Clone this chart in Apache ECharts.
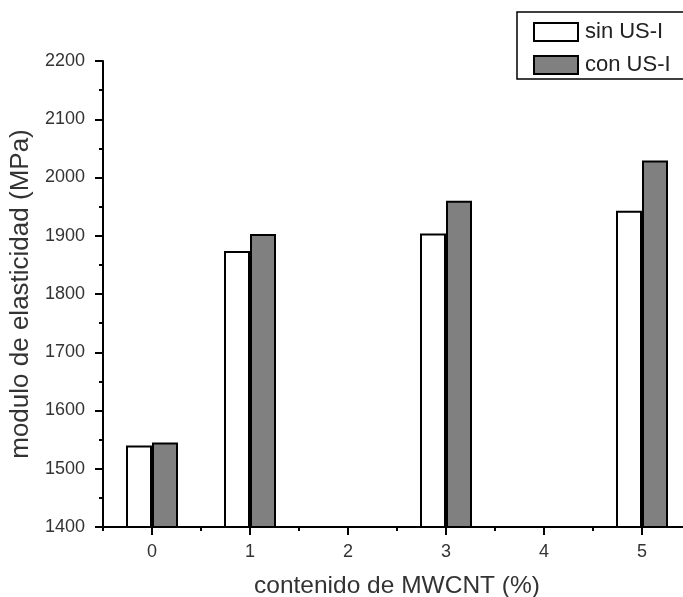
<!DOCTYPE html>
<html>
<head>
<meta charset="utf-8">
<script src="https://cdn.jsdelivr.net/npm/echarts@6/dist/echarts.min.js"></script>
<style>
  html, body { margin: 0; padding: 0; background: #fff; }
  #chart { width: 683px; height: 597px; }
</style>
</head>
<body>
<div id="chart"></div>
<script>
// MWCNT content (%) on the x axis
const categories = ['0', '1', '2', '3', '4', '5'];
// Tensile modulus (MPa) without and with ultrasound treatment
const sinUSI = [1540, 1874, null, 1904, null, 1943];
const conUSI = [1545, 1903, null, 1960, null, 2029];
// Band edges used for the short ticks between categories
const bandEdges = ['', '', '', '', '', '', ''];

const FONT = '"Liberation Sans", Arial, sans-serif';
const TEXT = '#333';

const chart = echarts.init(document.getElementById('chart'), null, { renderer: 'canvas' });

chart.setOption({
  animation: false,
  backgroundColor: '#fff',
  textStyle: { fontFamily: FONT },
  grid: { left: 103, top: 61, width: 588, height: 466, containLabel: false, outerBoundsMode: 'none' },
  legend: {
    left: 517,
    top: 12,
    orient: 'vertical',
    padding: [9, 30, 3, 16],
    itemWidth: 44,
    itemHeight: 18,
    itemGap: 11,
    borderColor: '#000',
    borderWidth: 1.5,
    borderRadius: 0,
    backgroundColor: '#fff',
    icon: 'rect',
    textStyle: { fontSize: 22, color: '#222', fontFamily: FONT, lineHeight: 18, padding: [0, 0, 0, 2] },
    data: [
      { name: 'sin US-I', itemStyle: { color: '#fff', borderColor: '#000', borderWidth: 2 } },
      { name: 'con US-I', itemStyle: { color: '#808080', borderColor: '#000', borderWidth: 2 } }
    ]
  },
  xAxis: [
    {
      type: 'category',
      data: categories,
      boundaryGap: true,
      name: 'contenido de MWCNT (%)',
      nameLocation: 'middle',
      nameGap: 47,
      nameTextStyle: { fontSize: 24.5, color: TEXT, fontFamily: FONT },
      axisLine: { show: true, lineStyle: { color: '#000', width: 2 } },
      axisTick: { show: true, alignWithLabel: true, length: 8, lineStyle: { color: '#000', width: 2 } },
      axisLabel: { fontSize: 18, color: TEXT, margin: 16, fontFamily: FONT },
      splitLine: { show: false }
    },
    {
      type: 'category',
      data: bandEdges,
      boundaryGap: false,
      position: 'bottom',
      axisLine: { show: false },
      axisTick: { show: true, length: 4, interval: 0, lineStyle: { color: '#000', width: 2 } },
      axisLabel: { show: false },
      splitLine: { show: false }
    }
  ],
  yAxis: {
    type: 'value',
    min: 1400,
    max: 2200,
    interval: 100,
    name: 'modulo de elasticidad (MPa)',
    nameLocation: 'middle',
    nameGap: 68,
    nameTextStyle: { fontSize: 26, color: TEXT, fontFamily: FONT },
    axisLine: { show: true, lineStyle: { color: '#000', width: 2 } },
    axisTick: { show: true, length: 8, lineStyle: { color: '#000', width: 2 } },
    minorTick: { show: true, splitNumber: 2, length: 4, lineStyle: { color: '#000', width: 2 } },
    axisLabel: { fontSize: 18, color: TEXT, margin: 18, fontFamily: FONT, formatter: (v) => String(v) },
    splitLine: { show: false },
    minorSplitLine: { show: false }
  },
  series: [
    {
      name: 'sin US-I',
      type: 'bar',
      xAxisIndex: 0,
      data: sinUSI,
      barWidth: 26,
      barGap: '0%',
      itemStyle: { color: '#fff', borderColor: '#000', borderWidth: 2 }
    },
    {
      name: 'con US-I',
      type: 'bar',
      xAxisIndex: 0,
      data: conUSI,
      barWidth: 26,
      barGap: '0%',
      itemStyle: { color: '#808080', borderColor: '#000', borderWidth: 2 }
    }
  ]
});
</script>
</body>
</html>
